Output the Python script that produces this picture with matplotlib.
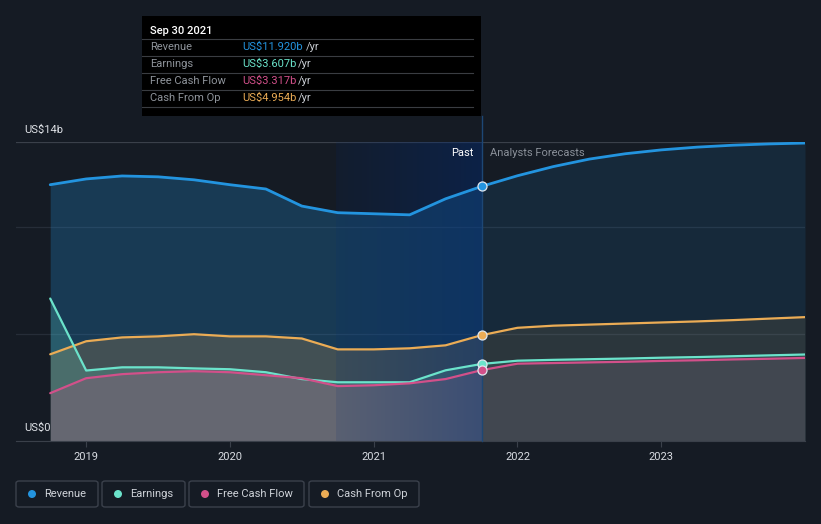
import numpy as np
import matplotlib.pyplot as plt
from matplotlib.patches import FancyBboxPatch, Rectangle, Ellipse
from matplotlib.lines import Line2D

plt.rcParams['font.family'] = ['Roboto', 'DejaVu Sans']

# quarterly history and forecast points (decimal years), values in US$ billions
past_t = [2018.75, 2019.0, 2019.25, 2019.5, 2019.75, 2020.0, 2020.25,
          2020.5, 2020.75, 2021.0, 2021.25, 2021.5, 2021.75]
fc_t = [2021.75, 2022.0, 2022.25, 2022.5, 2022.75, 2023.0, 2023.25,
        2023.5, 2023.75, 2024.0]

revenue_past = [12.0, 12.27, 12.41, 12.37, 12.23, 12.0, 11.8,
                11.0, 10.69, 10.64, 10.59, 11.34, 11.92]
revenue_fc = [11.92, 12.42, 12.85, 13.2, 13.45, 13.63, 13.76, 13.85, 13.91, 13.95]

earnings_past = [6.67, 3.3, 3.45, 3.45, 3.4, 3.36, 3.22,
                 2.9, 2.75, 2.75, 2.75, 3.31, 3.607]
earnings_fc = [3.607, 3.76, 3.8, 3.83, 3.86, 3.9, 3.93, 3.97, 4.01, 4.05]

fcf_past = [2.24, 2.94, 3.13, 3.22, 3.27, 3.22, 3.08,
            2.94, 2.57, 2.61, 2.7, 2.9, 3.317]
fcf_fc = [3.317, 3.62, 3.65, 3.68, 3.71, 3.75, 3.78, 3.82, 3.85, 3.89]

cfo_past = [4.06, 4.67, 4.85, 4.9, 5.0, 4.9, 4.9,
            4.8, 4.29, 4.29, 4.34, 4.48, 4.954]
cfo_fc = [4.954, 5.3, 5.4, 5.45, 5.5, 5.55, 5.6, 5.66, 5.73, 5.8]

names = ['Revenue', 'Earnings', 'Free Cash Flow', 'Cash From Op']
colors = ['#2394DF', '#6BE3CB', '#D2508A', '#EBAC55']
tip_values = ['US$11.920b', 'US$3.607b', 'US$3.317b', 'US$4.954b']
year_ticks = [2019, 2020, 2021, 2022, 2023]

BG = '#151B24'
W, H = 821, 524


def fx(x):
    return x / W


def fy(y):
    return 1 - y / H


fig = plt.figure(figsize=(W / 100, H / 100), dpi=100, facecolor=BG)
ax = fig.add_axes([fx(16), fy(441), fx(805) - fx(16), fy(142) - fy(441)])
ax.set_facecolor(BG)

series = [(revenue_past, revenue_fc), (earnings_past, earnings_fc),
          (fcf_past, fcf_fc), (cfo_past, cfo_fc)]
past_alpha = [0.26, 0.2, 0.2, 0.2]
fc_alpha = [0.12, 0.1, 0.1, 0.1]

# fills (revenue first, then cash, earnings, fcf)
for i in [0, 3, 1, 2]:
    p, f = series[i]
    ax.fill_between(past_t, 0, p, color=colors[i], alpha=past_alpha[i], lw=0, zorder=1)
    ax.fill_between(fc_t, 0, f, color=colors[i], alpha=fc_alpha[i], lw=0, zorder=1)

# highlighted last year of history
grad = np.zeros((2, 256, 4))
grad[..., 1] = 0.17
grad[..., 2] = 0.47
grad[..., 3] = np.linspace(0.12, 0.42, 256)
ax.imshow(grad, extent=[2020.74, 2021.75, 0, 14], aspect='auto', zorder=2,
          interpolation='bilinear')

# lines
for i in [0, 3, 1, 2]:
    p, f = series[i]
    lw = 2.0 if i == 0 else 1.6
    ax.plot(past_t + fc_t[1:], p + f[1:], color=colors[i], lw=lw,
            solid_joinstyle='round', solid_capstyle='round', zorder=4)
    ax.plot([past_t[-1]], [p[-1]], 'o', ms=6.5, mfc=colors[i], mec='#dfe6ee',
            mew=0.9, zorder=6)

ax.set_xlim(2018.512, 2024.0)
ax.set_ylim(0, 14)

# grid
for v, c in [(5, '#262d38'), (10, '#262d38'), (14, '#3a404a')]:
    ax.axhline(v, color=c, lw=0.9, zorder=0.5)

ax.axvline(2021.75, ymin=0, ymax=(441 - 116) / (441 - 142), color='#1d4775',
           lw=1.0, clip_on=False, zorder=3)

for s in ['top', 'right', 'left']:
    ax.spines[s].set_visible(False)
ax.spines['bottom'].set_color('#3a404a')
ax.set_yticks([])
ax.set_xticks(year_ticks)
ax.set_xticklabels([str(y) for y in year_ticks])
ax.tick_params(axis='x', colors='#3a404a', labelcolor='#d8dce2', length=4,
               labelsize=8, pad=4)

ax.text(2018.57, 14.56, 'US$14b', color='#e0e3e8', fontsize=8, va='center', zorder=7)
ax.text(2018.57, 0.6, 'US$0', color='#e0e3e8', fontsize=8, va='center', zorder=7)
ax.text(2021.694, 13.49, 'Past', color='#ffffff', fontsize=8, ha='right',
        va='center', zorder=7)
ax.text(2021.806, 13.49, 'Analysts Forecasts', color='#8a9099', fontsize=8,
        ha='left', va='center', zorder=7)

# tooltip
fig.patches.append(Rectangle((fx(142), fy(116)), fx(481) - fx(142), fy(16) - fy(116),
                             transform=fig.transFigure, facecolor='#000000',
                             edgecolor='none', zorder=10))
fig.text(fx(150), fy(31), 'Sep 30 2021', color='#ffffff', fontsize=8,
         fontweight='medium', va='center', zorder=11)
row_y = [47, 64, 81, 98]
yr_x = [306, 298, 298, 298]
for k in range(4):
    fig.lines.append(Line2D([fx(142), fx(473)], [fy(row_y[k] - 8)] * 2,
                            transform=fig.transFigure, color='#3a3d42', lw=0.8,
                            zorder=11))
    fig.text(fx(150), fy(row_y[k]), names[k], color='#8f949b', fontsize=8,
             va='center', zorder=11)
    fig.text(fx(242), fy(row_y[k]), tip_values[k], color=colors[k], fontsize=8,
             va='center', zorder=11)
    fig.text(fx(yr_x[k]), fy(row_y[k]), '/yr', color='#c8ccd2', fontsize=8,
             va='center', zorder=11)
fig.lines.append(Line2D([fx(142), fx(473)], [fy(107)] * 2, transform=fig.transFigure,
                        color='#3a3d42', lw=0.8, zorder=11))

# legend boxes
box_x = [(16, 98), (102, 185), (189, 304), (309, 419)]
for k in range(4):
    x0, x1 = box_x[k]
    fig.patches.append(FancyBboxPatch((fx(x0), fy(507)), fx(x1) - fx(x0), fy(481) - fy(507),
                                      boxstyle='round,pad=0,rounding_size=0.004',
                                      transform=fig.transFigure, facecolor='none',
                                      edgecolor='#3b414c', lw=1.0))
    fig.patches.append(Ellipse((fx(x0 + 16), fy(494)), 8 / W, 8 / H,
                               transform=fig.transFigure, facecolor=colors[k],
                               edgecolor='none'))
    fig.text(fx(x0 + 28), fy(494), names[k], color='#cfd3d9', fontsize=8,
             va='center')

fig.savefig('out.png', dpi=100, facecolor=BG)
